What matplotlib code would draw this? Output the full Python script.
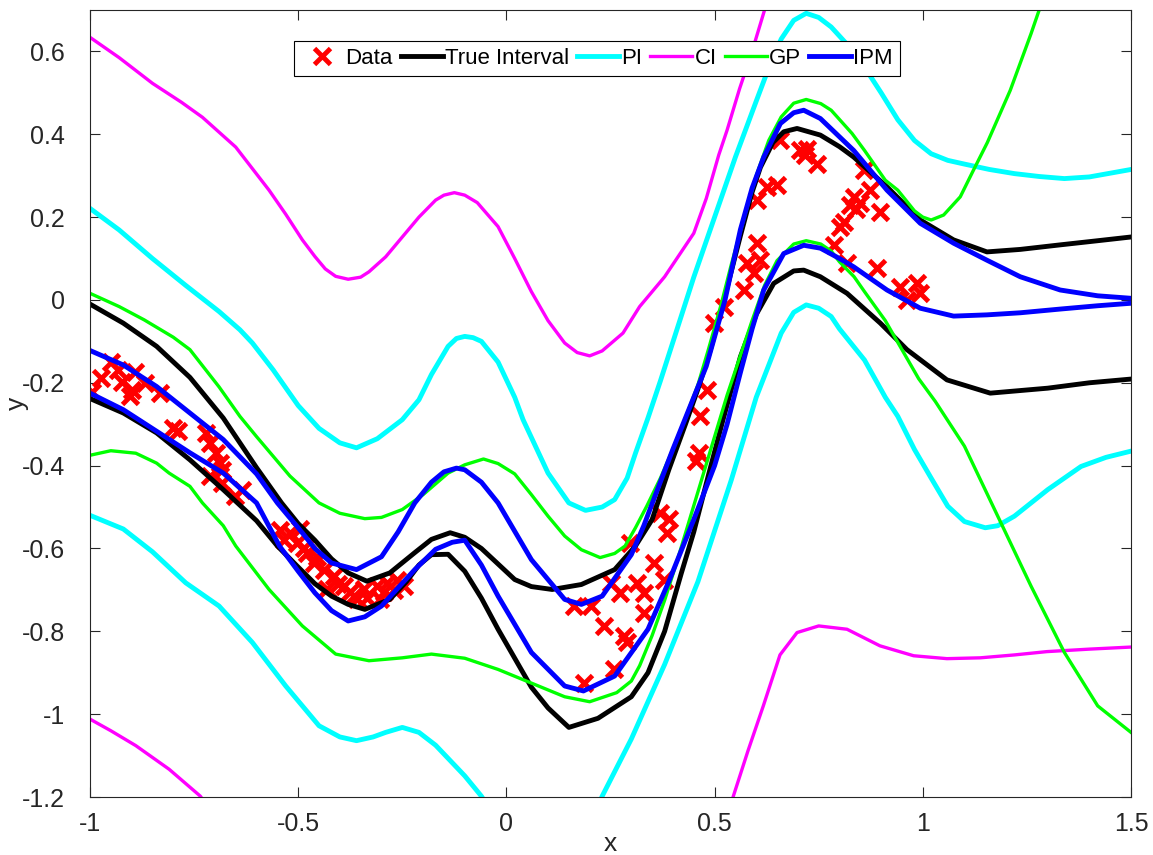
# Prediction intervals vs true interval (recreated figure)
import numpy as np
import matplotlib
matplotlib.use('Agg')
import matplotlib.pyplot as plt

plt.rcParams['font.family'] = ['Liberation Sans', 'DejaVu Sans']
plt.rcParams['axes.unicode_minus'] = False

nan = np.nan

# observed data
data_x = [-0.995, -0.973, -0.949, -0.933, -0.924, -0.9, -0.892, -0.904, -0.869, -0.833,
          -0.789, -0.8, -0.721, -0.713, -0.697, -0.689, -0.684, -0.713, -0.636, -0.652, -0.684,
          -0.543, -0.535, -0.519, -0.503, -0.495, -0.487, -0.479, -0.463, -0.455, -0.439,
          -0.431, -0.415, -0.405, -0.391, -0.375, -0.367, -0.359, -0.343, -0.335, -0.311,
          -0.303, -0.295, -0.287, -0.263, -0.247, -0.27,
          0.162, 0.202, 0.234, 0.282, 0.29, 0.186, 0.258, 0.25, 0.274, 0.298, 0.314, 0.33,
          0.33, 0.354, 0.37, 0.378, 0.386, 0.39,
          0.466, 0.462, 0.456, 0.482, 0.498, 0.522, 0.57, 0.578, 0.594, 0.602, 0.61, 0.602,
          0.626, 0.65, 0.658, 0.706, 0.722, 0.716, 0.746,
          0.858, 0.874, 0.834, 0.826, 0.85, 0.898, 0.81, 0.802, 0.786, 0.818, 0.89, 0.946,
          0.986, 0.994, 0.962, 0.84]
data_y = [-0.222, -0.189, -0.149, -0.169, -0.197, -0.217, -0.173, -0.233, -0.2, -0.225,
          -0.317, -0.31, -0.321, -0.345, -0.369, -0.394, -0.41, -0.426, -0.458, -0.474, -0.442,
          -0.555, -0.58, -0.562, -0.586, -0.554, -0.6, -0.61, -0.635, -0.62, -0.651,
          -0.699, -0.667, -0.685, -0.691, -0.705, -0.715, -0.723, -0.699, -0.72, -0.691,
          -0.723, -0.705, -0.683, -0.675, -0.691, -0.7,
          -0.739, -0.739, -0.787, -0.811, -0.827, -0.924, -0.892, -0.683, -0.707, -0.586, -0.683, -0.707,
          -0.755, -0.635, -0.514, -0.675, -0.562, -0.53,
          -0.281, -0.369, -0.39, -0.217, -0.056, -0.016, 0.024, 0.088, 0.064, 0.137, 0.096, 0.241,
          0.273, 0.277, 0.386, 0.361, 0.365, 0.35, 0.329,
          0.313, 0.265, 0.249, 0.229, 0.233, 0.213, 0.189, 0.177, 0.133, 0.088, 0.076, 0.032,
          0.04, 0.016, 0.0, 0.22]

# true interval
tr_up_x = [-1.0, -0.92, -0.84, -0.76, -0.68, -0.6, -0.54, -0.5, -0.46, -0.42, -0.38, -0.335, -0.28,
           -0.22, -0.18, -0.135, -0.1, -0.06, 0.02, 0.06, 0.11, 0.18, 0.26, 0.31, 0.35, 0.39, 0.43,
           0.46, 0.49, 0.525, 0.562, 0.59, 0.61, 0.64, 0.666, 0.698, 0.754, 0.8, 0.834, 0.914,
           0.994, 1.074, 1.154, 1.234, 1.33, 1.42, 1.5]
tr_up_y = [-0.01, -0.056, -0.112, -0.187, -0.285, -0.405, -0.49, -0.54, -0.58, -0.625, -0.659,
           -0.679, -0.659, -0.61, -0.578, -0.562, -0.573, -0.6, -0.675, -0.692, -0.699, -0.687,
           -0.651, -0.594, -0.53, -0.41, -0.3, -0.215, -0.12, 0.01, 0.155, 0.26, 0.32, 0.38,
           0.406, 0.414, 0.398, 0.37, 0.345, 0.273, 0.193, 0.145, 0.116, 0.122, 0.133, 0.143, 0.152]
tr_lo_x = [-1.0, -0.92, -0.84, -0.76, -0.68, -0.6, -0.55, -0.5, -0.46, -0.42, -0.38, -0.34, -0.28,
           -0.24, -0.21, -0.18, -0.14, -0.1, -0.06, -0.02, 0.06, 0.1, 0.15, 0.22, 0.3, 0.34, 0.38,
           0.42, 0.45, 0.486, 0.52, 0.562, 0.6, 0.642, 0.69, 0.714, 0.754, 0.818, 0.898, 0.962,
           1.058, 1.162, 1.3, 1.4, 1.5]
tr_lo_y = [-0.238, -0.273, -0.321, -0.386, -0.458, -0.533, -0.594, -0.645, -0.685, -0.715, -0.735,
           -0.747, -0.723, -0.68, -0.64, -0.615, -0.614, -0.655, -0.72, -0.795, -0.935, -0.985,
           -1.032, -1.01, -0.958, -0.9, -0.8, -0.66, -0.56, -0.42, -0.29, -0.137, -0.035, 0.04,
           0.07, 0.072, 0.056, 0.016, -0.056, -0.12, -0.193, -0.225, -0.213, -0.2, -0.191]

# prediction interval (PI)
pi_up_x = [-1.0, -0.93, -0.85, -0.77, -0.69, -0.64, -0.61, -0.56, -0.5, -0.45, -0.4, -0.36, -0.31,
           -0.25, -0.21, -0.18, -0.14, -0.12, -0.1, -0.08, -0.06, -0.02, 0.02, 0.04, 0.1, 0.15,
           0.19, 0.23, 0.26, 0.29, 0.31, 0.34, 0.37, 0.41, 0.45, 0.5, 0.55, 0.6, 0.63, 0.66, 0.69,
           0.72, 0.75, 0.78, 0.82, 0.86, 0.9, 0.94, 0.98, 1.02, 1.06, 1.1, 1.16, 1.22, 1.28, 1.34,
           1.4, 1.45, 1.5]
pi_up_y = [0.221, 0.169, 0.1, 0.035, -0.028, -0.072, -0.104, -0.169, -0.255, -0.31, -0.345,
           -0.357, -0.335, -0.289, -0.241, -0.18, -0.112, -0.093, -0.088, -0.091, -0.1, -0.15,
           -0.235, -0.289, -0.418, -0.49, -0.508, -0.5, -0.482, -0.43, -0.37, -0.285, -0.195,
           -0.07, 0.055, 0.2, 0.345, 0.48, 0.56, 0.63, 0.675, 0.692, 0.682, 0.659, 0.615, 0.562,
           0.5, 0.435, 0.385, 0.353, 0.337, 0.328, 0.315, 0.305, 0.298, 0.293, 0.297, 0.306, 0.315]
pi_lo_x = [-1.0, -0.92, -0.85, -0.77, -0.69, -0.61, -0.53, -0.45, -0.4, -0.36, -0.32, -0.29, -0.25,
           -0.21, -0.17, -0.1, -0.06, -0.04, nan, 0.215, 0.23, 0.3, 0.38, 0.46, 0.54, 0.6, 0.66,
           0.69, 0.72, 0.75, 0.78, 0.8, 0.86, 0.91, 0.94, 0.98, 1.02, 1.06, 1.1, 1.15, 1.18, 1.22,
           1.26, 1.3, 1.34, 1.38, 1.44, 1.5]
pi_lo_y = [-0.52, -0.553, -0.608, -0.683, -0.739, -0.827, -0.932, -1.028, -1.055, -1.064, -1.055,
           -1.044, -1.032, -1.044, -1.075, -1.149, -1.198, -1.23, nan, -1.235, -1.198, -1.06, -0.88,
           -0.68, -0.435, -0.235, -0.08, -0.03, -0.012, -0.02, -0.04, -0.07, -0.145, -0.235,
           -0.281, -0.361, -0.43, -0.498, -0.535, -0.55, -0.545, -0.522, -0.49, -0.458, -0.43,
           -0.402, -0.38, -0.365]

# confidence interval (CI)
ci_up_x = [-1.0, -0.93, -0.85, -0.78, -0.73, -0.65, -0.57, -0.53, -0.49, -0.46, -0.435, -0.41,
           -0.38, -0.35, -0.33, -0.29, -0.25, -0.21, -0.17, -0.15, -0.125, -0.1, -0.07, -0.02,
           0.02, 0.06, 0.1, 0.14, 0.17, 0.2, 0.23, 0.28, 0.32, 0.38, 0.45, 0.48, 0.51, 0.53, 0.56,
           0.59, 0.62, 0.64]
ci_up_y = [0.634, 0.585, 0.523, 0.477, 0.441, 0.369, 0.265, 0.207, 0.145, 0.105, 0.075, 0.057,
           0.05, 0.055, 0.068, 0.104, 0.152, 0.2, 0.241, 0.253, 0.259, 0.253, 0.235, 0.177, 0.1,
           0.02, -0.05, -0.104, -0.127, -0.135, -0.123, -0.08, -0.016, 0.056, 0.161, 0.245, 0.35,
           0.41, 0.51, 0.6, 0.7, 0.78]
ci_lo_x = [-1.0, -0.95, -0.89, -0.81, -0.735, -0.72, nan, 0.535, 0.545, 0.58, 0.617, 0.657, 0.698,
           0.75, 0.818, 0.897, 0.978, 1.058, 1.138, 1.22, 1.298, 1.4, 1.5]
ci_lo_y = [-1.012, -1.04, -1.076, -1.133, -1.198, -1.22, nan, -1.23, -1.198, -1.089, -0.98, -0.857,
           -0.803, -0.787, -0.795, -0.835, -0.859, -0.866, -0.864, -0.857, -0.849, -0.843, -0.838]

# GP interval
gp_up_x = [-1.0, -0.93, -0.87, -0.8, -0.76, -0.69, -0.64, -0.6, -0.52, -0.45, -0.4, -0.34, -0.3,
           -0.25, -0.2, -0.14, -0.1, -0.055, -0.02, 0.02, 0.06, 0.1, 0.14, 0.18, 0.225, 0.26, 0.285,
           0.31, 0.337, 0.37, 0.4, 0.43, 0.46, 0.485, 0.516, 0.54, 0.57, 0.6, 0.63, 0.66, 0.69,
           0.72, 0.755, 0.78, 0.83, 0.86, 0.91, 0.94, 0.98, 1.0, 1.02, 1.05, 1.09, 1.12, 1.155,
           1.21, 1.26, 1.3]
gp_up_y = [0.016, -0.016, -0.048, -0.09, -0.12, -0.21, -0.281, -0.33, -0.425, -0.49, -0.515,
           -0.528, -0.525, -0.506, -0.47, -0.418, -0.398, -0.384, -0.395, -0.42, -0.47, -0.522,
           -0.57, -0.603, -0.622, -0.612, -0.594, -0.55, -0.498, -0.43, -0.36, -0.285, -0.205,
           -0.12, -0.01, 0.085, 0.195, 0.3, 0.385, 0.442, 0.475, 0.484, 0.474, 0.458, 0.402, 0.361,
           0.289, 0.265, 0.215, 0.2, 0.193, 0.205, 0.249, 0.31, 0.38, 0.506, 0.643, 0.76]
gp_lo_x = [-1.0, -0.95, -0.89, -0.84, -0.81, -0.76, -0.73, -0.68, -0.65, -0.57, -0.49, -0.41, -0.33,
           -0.25, -0.18, -0.1, -0.02, 0.06, 0.14, 0.2, 0.265, 0.3, 0.32, 0.35, 0.38, 0.41, 0.44,
           0.47, 0.5, 0.53, 0.56, 0.59, 0.62, 0.65, 0.69, 0.72, 0.755, 0.78, 0.8, 0.835, 0.86,
           0.91, 0.95, 0.99, 1.03, 1.1, 1.18, 1.26, 1.34, 1.42, 1.5]
gp_lo_y = [-0.375, -0.364, -0.37, -0.394, -0.418, -0.45, -0.49, -0.545, -0.594, -0.699, -0.787,
           -0.855, -0.871, -0.864, -0.855, -0.865, -0.892, -0.925, -0.958, -0.97, -0.948, -0.92,
           -0.883, -0.81, -0.725, -0.63, -0.53, -0.43, -0.33, -0.23, -0.14, -0.05, 0.035, 0.095,
           0.135, 0.143, 0.135, 0.118, 0.092, 0.056, 0.02, -0.05, -0.12, -0.19, -0.245, -0.353,
           -0.522, -0.691, -0.851, -0.98, -1.044]

# IPM interval
ipm_up_x = [-1.0, -0.92, -0.84, -0.76, -0.68, -0.6, -0.55, -0.5, -0.46, -0.42, -0.36, -0.3, -0.26,
            -0.22, -0.18, -0.15, -0.12, -0.1, -0.06, -0.02, 0.06, 0.14, 0.18, 0.23, 0.3, 0.33,
            0.36, 0.4, 0.44, 0.48, 0.525, 0.562, 0.59, 0.618, 0.658, 0.69, 0.714, 0.754, 0.834,
            0.914, 0.994, 1.074, 1.154, 1.234, 1.33, 1.42, 1.5]
ipm_up_y = [-0.122, -0.157, -0.209, -0.273, -0.337, -0.42, -0.49, -0.55, -0.6, -0.635, -0.651,
            -0.62, -0.56, -0.49, -0.44, -0.415, -0.406, -0.41, -0.44, -0.49, -0.627, -0.723,
            -0.735, -0.715, -0.615, -0.545, -0.465, -0.36, -0.26, -0.16, 0.0, 0.17, 0.27, 0.345,
            0.426, 0.452, 0.458, 0.438, 0.361, 0.265, 0.185, 0.137, 0.096, 0.056, 0.024, 0.01, 0.004]
ipm_lo_x = [-1.0, -0.92, -0.84, -0.76, -0.68, -0.6, -0.545, -0.5, -0.46, -0.42, -0.38, -0.34, -0.3,
            -0.22, -0.17, -0.13, -0.1, -0.06, -0.02, 0.06, 0.14, 0.185, 0.26, 0.34, 0.39, 0.45,
            0.5, 0.53, 0.562, 0.59, 0.618, 0.666, 0.714, 0.754, 0.8, 0.834, 0.914, 0.994, 1.074,
            1.154, 1.234, 1.33, 1.42, 1.5]
ipm_lo_y = [-0.225, -0.265, -0.317, -0.369, -0.418, -0.49, -0.594, -0.655, -0.707, -0.75, -0.775,
            -0.765, -0.739, -0.651, -0.602, -0.585, -0.58, -0.64, -0.715, -0.851, -0.932, -0.944,
            -0.908, -0.795, -0.68, -0.53, -0.4, -0.3, -0.175, -0.07, 0.024, 0.112, 0.132, 0.125,
            0.1, 0.08, 0.024, -0.02, -0.039, -0.036, -0.031, -0.022, -0.014, -0.008]

x_ticks = [-1, -0.5, 0, 0.5, 1, 1.5]
x_tick_labels = ['-1', '-0.5', '0', '0.5', '1', '1.5']
y_ticks = [-1.2, -1, -0.8, -0.6, -0.4, -0.2, 0, 0.2, 0.4, 0.6]
y_tick_labels = ['-1.2', '-1', '-0.8', '-0.6', '-0.4', '-0.2', '0', '0.2', '0.4', '0.6']

fig = plt.figure(figsize=(11.53, 8.55), dpi=100)
ax = fig.add_axes([90 / 1153, 1 - 797 / 855, (1131 - 90) / 1153, (797 - 10) / 855])

thick = 3.5
thin = 2.4
ax.plot(data_x, data_y, 'x', color='red', ms=11, mew=3.5, label='Data')
ax.plot(tr_up_x, tr_up_y, color='black', lw=thick, label='True Interval')
ax.plot(tr_lo_x, tr_lo_y, color='black', lw=thick)
ax.plot(pi_up_x, pi_up_y, color='cyan', lw=thick, label='PI')
ax.plot(pi_lo_x, pi_lo_y, color='cyan', lw=thick)
ax.plot(ci_up_x, ci_up_y, color='magenta', lw=thin, label='CI')
ax.plot(ci_lo_x, ci_lo_y, color='magenta', lw=thin)
ax.plot(gp_up_x, gp_up_y, color='#00ff00', lw=thin, label='GP')
ax.plot(gp_lo_x, gp_lo_y, color='#00ff00', lw=thin)
ax.plot(ipm_up_x, ipm_up_y, color='blue', lw=thick, label='IPM')
ax.plot(ipm_lo_x, ipm_lo_y, color='blue', lw=thick)

ax.set_xlim(-1, 1.5)
ax.set_ylim(-1.2, 0.7)
ax.set_xticks(x_ticks)
ax.set_xticklabels(x_tick_labels)
ax.set_yticks(y_ticks)
ax.set_yticklabels(y_tick_labels)
ax.tick_params(direction='in', length=7, width=0.8, top=True, right=True,
               labelsize=18, colors='#262626')
ax.tick_params(axis='x', pad=11)
ax.tick_params(axis='y', pad=18)
for s in ax.spines.values():
    s.set_color('#262626')
    s.set_linewidth(0.8)

ax.set_xlabel('x', fontsize=19, color='#262626', labelpad=-3)
ax.set_ylabel('y', fontsize=19, color='#262626', labelpad=-5)

leg = ax.legend(loc='upper center', bbox_to_anchor=(0.487, 0.96), ncol=6, fontsize=16,
                handlelength=1.9, handletextpad=0.1, columnspacing=0.35, borderpad=0.3,
                borderaxespad=0, fancybox=False, edgecolor='black', framealpha=1)
leg.get_frame().set_linewidth(0.8)

plt.savefig('out.png', dpi=100)
